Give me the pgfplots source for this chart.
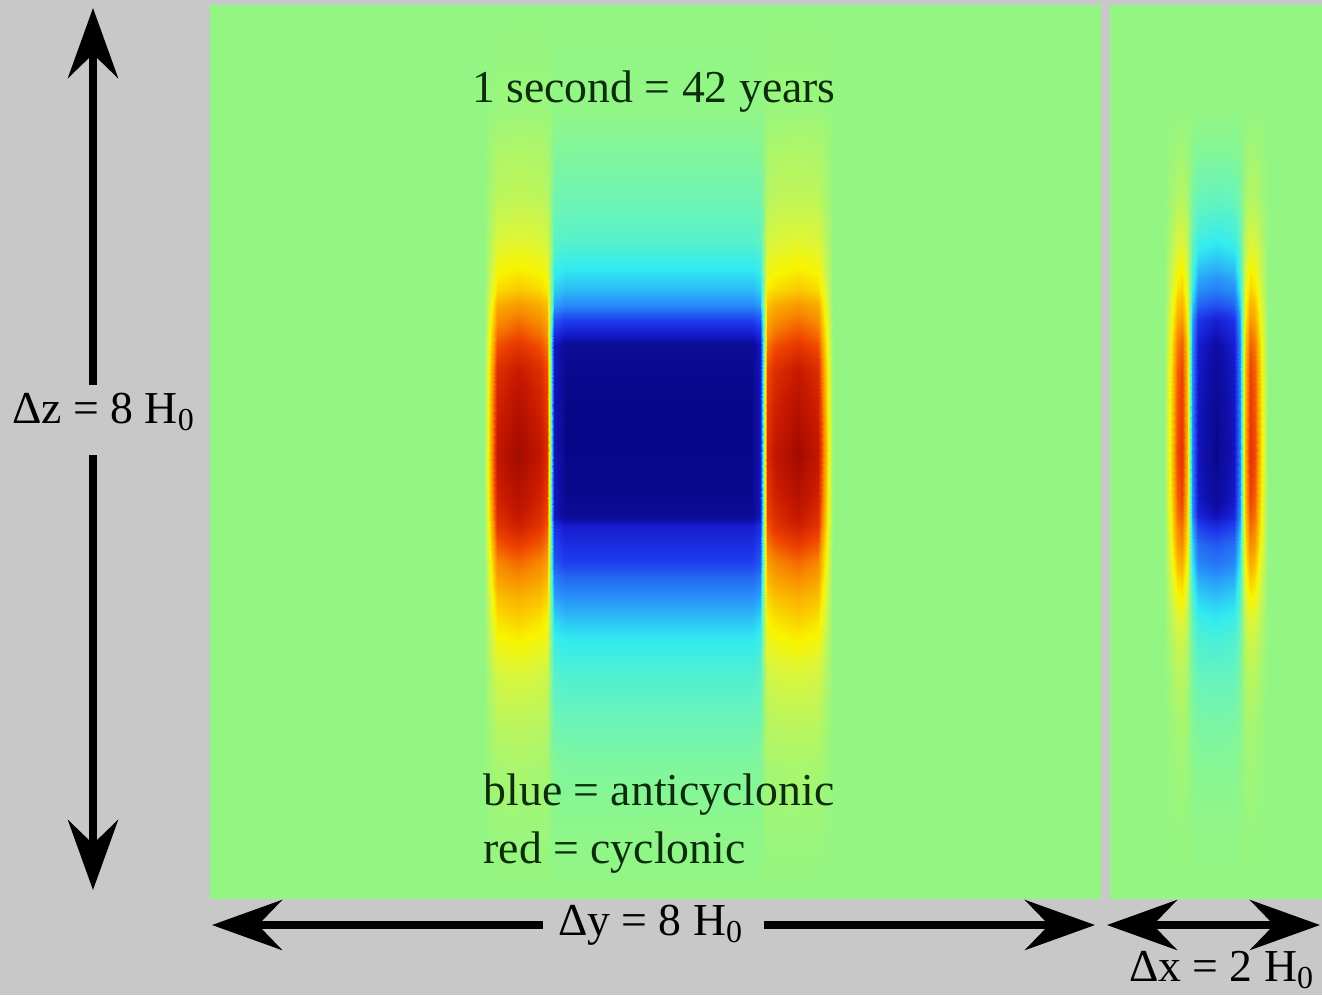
\documentclass[border=0pt]{standalone}
\usepackage{pgfplots}
\pgfplotsset{compat=1.18}
\usepackage{fontspec}
\setmainfont{Liberation Serif}
\usetikzlibrary{arrows.meta}
\definecolor{bggray}{RGB}{200,200,200}
\definecolor{txtgreen}{RGB}{12,45,12}
\pgfplotsset{colormap={vort}{rgb255(0pt)=(0,0,120); rgb255(5pt)=(12,12,150); rgb255(10pt)=(15,15,170); rgb255(15pt)=(20,25,200); rgb255(28pt)=(30,55,235); rgb255(55pt)=(40,150,250); rgb255(72pt)=(50,235,240); rgb255(88pt)=(110,245,180); rgb255(100pt)=(148,246,130); rgb255(112pt)=(190,246,90); rgb255(122pt)=(225,246,50); rgb255(130pt)=(248,245,0); rgb255(140pt)=(250,200,0); rgb255(155pt)=(248,140,0); rgb255(170pt)=(238,65,0); rgb255(185pt)=(200,25,0); rgb255(193pt)=(175,15,0); rgb255(200pt)=(145,10,0)}}
\tikzset{bigarrow/.style={line width=0.8mm,-{Stealth[length=7mm,width=5mm,inset=2.4mm]}}}
\begin{document}
\begin{tikzpicture}
\useasboundingbox (0,0) rectangle (13.22cm,9.95cm);
\fill[bggray] (0,0) rectangle (13.22cm,9.95cm);
\begin{axis}[at={(0,0)}, anchor=south west, width=13.22cm, height=9.95cm, scale only axis, hide axis,
  xmin=0, xmax=1322, ymin=0, ymax=995, y dir=reverse, clip=false,
  colormap name=vort, point meta min=-1, point meta max=1]
% left panel: y-z section, 18 columns x 28 rows
\addplot[surf, shader=interp, mesh/cols=18, mesh/rows=28, point meta=explicit]
 table[row sep=\\, x=x, y=y, meta=c] {
x y c\\
210 5 0\\484 5 0\\490 5 0\\497 5 0\\518 5 0\\540 5 0\\547 5 0\\554 5 0\\565 5 0\\752 5 0\\760 5 0\\767 5 0\\775 5 0\\798 5 0\\818 5 0\\826 5 0\\833 5 0\\1100 5 0\\
210 110 0\\484 110 0\\490 110 0.01\\497 110 0.02\\518 110 0.02\\540 110 0.02\\547 110 0.02\\554 110 -0.01\\565 110 -0.01\\752 110 -0.01\\760 110 -0.01\\767 110 0.02\\775 110 0.02\\798 110 0.02\\818 110 0.02\\826 110 0.01\\833 110 0\\1100 110 0\\
210 150 0\\484 150 0\\490 150 0.04\\497 150 0.07\\518 150 0.08\\540 150 0.07\\547 150 0.06\\554 150 -0.05\\565 150 -0.06\\752 150 -0.06\\760 150 -0.05\\767 150 0.06\\775 150 0.07\\798 150 0.08\\818 150 0.07\\826 150 0.04\\833 150 0\\1100 150 0\\
210 200 0\\484 200 0\\490 200 0.06\\497 200 0.12\\518 200 0.13\\540 200 0.12\\547 200 0.10\\554 200 -0.11\\565 200 -0.12\\752 200 -0.12\\760 200 -0.11\\767 200 0.10\\775 200 0.12\\798 200 0.13\\818 200 0.12\\826 200 0.06\\833 200 0\\1100 200 0\\
210 240 0\\484 240 0\\490 240 0.10\\497 240 0.20\\518 240 0.22\\540 240 0.20\\547 240 0.18\\554 240 -0.16\\565 240 -0.18\\752 240 -0.18\\760 240 -0.16\\767 240 0.18\\775 240 0.20\\798 240 0.22\\818 240 0.20\\826 240 0.10\\833 240 0\\1100 240 0\\
210 268 0\\484 268 0\\490 268 0.14\\497 268 0.28\\518 268 0.31\\540 268 0.28\\547 268 0.25\\554 268 -0.25\\565 268 -0.28\\752 268 -0.28\\760 268 -0.25\\767 268 0.25\\775 268 0.28\\798 268 0.31\\818 268 0.28\\826 268 0.14\\833 268 0\\1100 268 0\\
210 290 0\\484 290 0\\490 290 0.18\\497 290 0.36\\518 290 0.40\\540 290 0.36\\547 290 0.32\\554 290 -0.34\\565 290 -0.38\\752 290 -0.38\\760 290 -0.34\\767 290 0.32\\775 290 0.36\\798 290 0.40\\818 290 0.36\\826 290 0.18\\833 290 0\\1100 290 0\\
210 305 0\\484 305 0\\490 305 0.23\\497 305 0.47\\518 305 0.52\\540 305 0.47\\547 305 0.42\\554 305 -0.43\\565 305 -0.48\\752 305 -0.48\\760 305 -0.43\\767 305 0.42\\775 305 0.47\\798 305 0.52\\818 305 0.47\\826 305 0.23\\833 305 0\\1100 305 0\\
210 320 0\\484 320 0\\490 320 0.27\\497 320 0.54\\518 320 0.60\\540 320 0.54\\547 320 0.48\\554 320 -0.63\\565 320 -0.70\\752 320 -0.70\\760 320 -0.63\\767 320 0.48\\775 320 0.54\\798 320 0.60\\818 320 0.54\\826 320 0.27\\833 320 0\\1100 320 0\\
210 335 0\\484 335 0\\490 335 0.31\\497 335 0.61\\518 335 0.68\\540 335 0.61\\547 335 0.54\\554 335 -0.77\\565 335 -0.85\\752 335 -0.85\\760 335 -0.77\\767 335 0.54\\775 335 0.61\\798 335 0.68\\818 335 0.61\\826 335 0.31\\833 335 0\\1100 335 0\\
210 345 0\\484 345 0\\490 345 0.33\\497 345 0.67\\518 345 0.74\\540 345 0.67\\547 345 0.59\\554 345 -0.86\\565 345 -0.95\\752 345 -0.95\\760 345 -0.86\\767 345 0.59\\775 345 0.67\\798 345 0.74\\818 345 0.67\\826 345 0.33\\833 345 0\\1100 345 0\\
210 370 0\\484 370 0\\490 370 0.38\\497 370 0.77\\518 370 0.85\\540 370 0.77\\547 370 0.68\\554 370 -0.86\\565 370 -0.96\\752 370 -0.96\\760 370 -0.86\\767 370 0.68\\775 370 0.77\\798 370 0.85\\818 370 0.77\\826 370 0.38\\833 370 0\\1100 370 0\\
210 400 0\\484 400 0\\490 400 0.41\\497 400 0.81\\518 400 0.90\\540 400 0.81\\547 400 0.72\\554 400 -0.87\\565 400 -0.97\\752 400 -0.97\\760 400 -0.87\\767 400 0.72\\775 400 0.81\\798 400 0.90\\818 400 0.81\\826 400 0.41\\833 400 0\\1100 400 0\\
210 455 0\\484 455 0\\490 455 0.44\\497 455 0.87\\518 455 0.97\\540 455 0.87\\547 455 0.78\\554 455 -0.87\\565 455 -0.97\\752 455 -0.97\\760 455 -0.87\\767 455 0.78\\775 455 0.87\\798 455 0.97\\818 455 0.87\\826 455 0.44\\833 455 0\\1100 455 0\\
210 500 0\\484 500 0\\490 500 0.41\\497 500 0.81\\518 500 0.90\\540 500 0.81\\547 500 0.72\\554 500 -0.86\\565 500 -0.96\\752 500 -0.96\\760 500 -0.86\\767 500 0.72\\775 500 0.81\\798 500 0.90\\818 500 0.81\\826 500 0.41\\833 500 0\\1100 500 0\\
210 517 0\\484 517 0\\490 517 0.39\\497 517 0.77\\518 517 0.86\\540 517 0.77\\547 517 0.69\\554 517 -0.86\\565 517 -0.95\\752 517 -0.95\\760 517 -0.86\\767 517 0.69\\775 517 0.77\\798 517 0.86\\818 517 0.77\\826 517 0.39\\833 517 0\\1100 517 0\\
210 525 0\\484 525 0\\490 525 0.37\\497 525 0.75\\518 525 0.83\\540 525 0.75\\547 525 0.66\\554 525 -0.76\\565 525 -0.84\\752 525 -0.84\\760 525 -0.76\\767 525 0.66\\775 525 0.75\\798 525 0.83\\818 525 0.75\\826 525 0.37\\833 525 0\\1100 525 0\\
210 545 0\\484 545 0\\490 545 0.32\\497 545 0.65\\518 545 0.72\\540 545 0.65\\547 545 0.58\\554 545 -0.68\\565 545 -0.76\\752 545 -0.76\\760 545 -0.68\\767 545 0.58\\775 545 0.65\\798 545 0.72\\818 545 0.65\\826 545 0.32\\833 545 0\\1100 545 0\\
210 562 0\\484 562 0\\490 562 0.28\\497 562 0.56\\518 562 0.62\\540 562 0.56\\547 562 0.50\\554 562 -0.63\\565 562 -0.70\\752 562 -0.70\\760 562 -0.63\\767 562 0.50\\775 562 0.56\\798 562 0.62\\818 562 0.56\\826 562 0.28\\833 562 0\\1100 562 0\\
210 578 0\\484 578 0\\490 578 0.25\\497 578 0.50\\518 578 0.55\\540 578 0.50\\547 578 0.44\\554 578 -0.52\\565 578 -0.58\\752 578 -0.58\\760 578 -0.52\\767 578 0.44\\775 578 0.50\\798 578 0.55\\818 578 0.50\\826 578 0.25\\833 578 0\\1100 578 0\\
210 600 0\\484 600 0\\490 600 0.20\\497 600 0.41\\518 600 0.45\\540 600 0.41\\547 600 0.36\\554 600 -0.41\\565 600 -0.45\\752 600 -0.45\\760 600 -0.41\\767 600 0.36\\775 600 0.41\\798 600 0.45\\818 600 0.41\\826 600 0.20\\833 600 0\\1100 600 0\\
210 620 0\\484 620 0\\490 620 0.17\\497 620 0.34\\518 620 0.38\\540 620 0.34\\547 620 0.30\\554 620 -0.32\\565 620 -0.36\\752 620 -0.36\\760 620 -0.32\\767 620 0.30\\775 620 0.34\\798 620 0.38\\818 620 0.34\\826 620 0.17\\833 620 0\\1100 620 0\\
210 640 0\\484 640 0\\490 640 0.14\\497 640 0.28\\518 640 0.31\\540 640 0.28\\547 640 0.25\\554 640 -0.25\\565 640 -0.28\\752 640 -0.28\\760 640 -0.25\\767 640 0.25\\775 640 0.28\\798 640 0.31\\818 640 0.28\\826 640 0.14\\833 640 0\\1100 640 0\\
210 675 0\\484 675 0\\490 675 0.09\\497 675 0.18\\518 675 0.20\\540 675 0.18\\547 675 0.16\\554 675 -0.18\\565 675 -0.20\\752 675 -0.20\\760 675 -0.18\\767 675 0.16\\775 675 0.18\\798 675 0.20\\818 675 0.18\\826 675 0.09\\833 675 0\\1100 675 0\\
210 720 0\\484 720 0\\490 720 0.05\\497 720 0.11\\518 720 0.12\\540 720 0.11\\547 720 0.10\\554 720 -0.12\\565 720 -0.13\\752 720 -0.13\\760 720 -0.12\\767 720 0.10\\775 720 0.11\\798 720 0.12\\818 720 0.11\\826 720 0.05\\833 720 0\\1100 720 0\\
210 770 0\\484 770 0\\490 770 0.03\\497 770 0.05\\518 770 0.06\\540 770 0.05\\547 770 0.05\\554 770 -0.05\\565 770 -0.06\\752 770 -0.06\\760 770 -0.05\\767 770 0.05\\775 770 0.05\\798 770 0.06\\818 770 0.05\\826 770 0.03\\833 770 0\\1100 770 0\\
210 830 0\\484 830 0\\490 830 0.01\\497 830 0.02\\518 830 0.02\\540 830 0.02\\547 830 0.02\\554 830 -0.02\\565 830 -0.02\\752 830 -0.02\\760 830 -0.02\\767 830 0.02\\775 830 0.02\\798 830 0.02\\818 830 0.02\\826 830 0.01\\833 830 0\\1100 830 0\\
210 898 0\\484 898 0\\490 898 0\\497 898 0\\518 898 0\\540 898 0\\547 898 0\\554 898 0\\565 898 0\\752 898 0\\760 898 0\\767 898 0\\775 898 0\\798 898 0\\818 898 0\\826 898 0\\833 898 0\\1100 898 0\\
};
% right panel: x-z section, 17 columns x 28 rows
\addplot[surf, shader=interp, mesh/cols=17, mesh/rows=28, point meta=explicit]
 table[row sep=\\, x=x, y=y, meta=c] {
x y c\\
1110 5 0\\1164 5 0\\1170 5 0\\1177 5 0\\1182 5 0\\1187 5 0\\1192 5 0\\1198 5 0\\1216 5 0\\1234 5 0\\1240 5 0\\1245 5 0\\1250 5 0\\1255 5 0\\1262 5 0\\1268 5 0\\1322 5 0\\
1110 110 0\\1164 110 0\\1170 110 0\\1177 110 0\\1182 110 0\\1187 110 0\\1192 110 0\\1198 110 0\\1216 110 0\\1234 110 0\\1240 110 0\\1245 110 0\\1250 110 0\\1255 110 0\\1262 110 0\\1268 110 0\\1322 110 0\\
1110 150 0\\1164 150 0\\1170 150 0.02\\1177 150 0.04\\1182 150 0.04\\1187 150 0.02\\1192 150 -0.03\\1198 150 -0.05\\1216 150 -0.05\\1234 150 -0.05\\1240 150 -0.03\\1245 150 0.02\\1250 150 0.04\\1255 150 0.04\\1262 150 0.02\\1268 150 0\\1322 150 0\\
1110 200 0\\1164 200 0\\1170 200 0.04\\1177 200 0.09\\1182 200 0.10\\1187 200 0.06\\1192 200 -0.08\\1198 200 -0.14\\1216 200 -0.15\\1234 200 -0.14\\1240 200 -0.08\\1245 200 0.06\\1250 200 0.10\\1255 200 0.09\\1262 200 0.04\\1268 200 0\\1322 200 0\\
1110 240 0\\1164 240 0\\1170 240 0.08\\1177 240 0.18\\1182 240 0.20\\1187 240 0.12\\1192 240 -0.14\\1198 240 -0.24\\1216 240 -0.27\\1234 240 -0.24\\1240 240 -0.14\\1245 240 0.12\\1250 240 0.20\\1255 240 0.18\\1262 240 0.08\\1268 240 0\\1322 240 0\\
1110 268 0\\1164 268 0\\1170 268 0.12\\1177 268 0.27\\1182 268 0.30\\1187 268 0.18\\1192 268 -0.20\\1198 268 -0.36\\1216 268 -0.40\\1234 268 -0.36\\1240 268 -0.20\\1245 268 0.18\\1250 268 0.30\\1255 268 0.27\\1262 268 0.12\\1268 268 0\\1322 268 0\\
1110 290 0\\1164 290 0\\1170 290 0.15\\1177 290 0.34\\1182 290 0.38\\1187 290 0.23\\1192 290 -0.26\\1198 290 -0.47\\1216 290 -0.52\\1234 290 -0.47\\1240 290 -0.26\\1245 290 0.23\\1250 290 0.38\\1255 290 0.34\\1262 290 0.15\\1268 290 0\\1322 290 0\\
1110 305 0\\1164 305 0\\1170 305 0.18\\1177 305 0.41\\1182 305 0.45\\1187 305 0.27\\1192 305 -0.33\\1198 305 -0.59\\1216 305 -0.65\\1234 305 -0.59\\1240 305 -0.33\\1245 305 0.27\\1250 305 0.45\\1255 305 0.41\\1262 305 0.18\\1268 305 0\\1322 305 0\\
1110 320 0\\1164 320 0\\1170 320 0.21\\1177 320 0.47\\1182 320 0.52\\1187 320 0.31\\1192 320 -0.41\\1198 320 -0.74\\1216 320 -0.82\\1234 320 -0.74\\1240 320 -0.41\\1245 320 0.31\\1250 320 0.52\\1255 320 0.47\\1262 320 0.21\\1268 320 0\\1322 320 0\\
1110 335 0\\1164 335 0\\1170 335 0.24\\1177 335 0.54\\1182 335 0.60\\1187 335 0.36\\1192 335 -0.44\\1198 335 -0.79\\1216 335 -0.88\\1234 335 -0.79\\1240 335 -0.44\\1245 335 0.36\\1250 335 0.60\\1255 335 0.54\\1262 335 0.24\\1268 335 0\\1322 335 0\\
1110 345 0\\1164 345 0\\1170 345 0.26\\1177 345 0.58\\1182 345 0.64\\1187 345 0.38\\1192 345 -0.46\\1198 345 -0.83\\1216 345 -0.92\\1234 345 -0.83\\1240 345 -0.46\\1245 345 0.38\\1250 345 0.64\\1255 345 0.58\\1262 345 0.26\\1268 345 0\\1322 345 0\\
1110 370 0\\1164 370 0\\1170 370 0.28\\1177 370 0.63\\1182 370 0.70\\1187 370 0.42\\1192 370 -0.47\\1198 370 -0.85\\1216 370 -0.94\\1234 370 -0.85\\1240 370 -0.47\\1245 370 0.42\\1250 370 0.70\\1255 370 0.63\\1262 370 0.28\\1268 370 0\\1322 370 0\\
1110 400 0\\1164 400 0\\1170 400 0.29\\1177 400 0.65\\1182 400 0.72\\1187 400 0.43\\1192 400 -0.48\\1198 400 -0.86\\1216 400 -0.96\\1234 400 -0.86\\1240 400 -0.48\\1245 400 0.43\\1250 400 0.72\\1255 400 0.65\\1262 400 0.29\\1268 400 0\\1322 400 0\\
1110 455 0\\1164 455 0\\1170 455 0.30\\1177 455 0.68\\1182 455 0.75\\1187 455 0.45\\1192 455 -0.49\\1198 455 -0.87\\1216 455 -0.97\\1234 455 -0.87\\1240 455 -0.49\\1245 455 0.45\\1250 455 0.75\\1255 455 0.68\\1262 455 0.30\\1268 455 0\\1322 455 0\\
1110 500 0\\1164 500 0\\1170 500 0.28\\1177 500 0.63\\1182 500 0.70\\1187 500 0.42\\1192 500 -0.47\\1198 500 -0.85\\1216 500 -0.94\\1234 500 -0.85\\1240 500 -0.47\\1245 500 0.42\\1250 500 0.70\\1255 500 0.63\\1262 500 0.28\\1268 500 0\\1322 500 0\\
1110 517 0\\1164 517 0\\1170 517 0.26\\1177 517 0.59\\1182 517 0.65\\1187 517 0.39\\1192 517 -0.44\\1198 517 -0.79\\1216 517 -0.88\\1234 517 -0.79\\1240 517 -0.44\\1245 517 0.39\\1250 517 0.65\\1255 517 0.59\\1262 517 0.26\\1268 517 0\\1322 517 0\\
1110 525 0\\1164 525 0\\1170 525 0.25\\1177 525 0.56\\1182 525 0.62\\1187 525 0.37\\1192 525 -0.39\\1198 525 -0.70\\1216 525 -0.78\\1234 525 -0.70\\1240 525 -0.39\\1245 525 0.37\\1250 525 0.62\\1255 525 0.56\\1262 525 0.25\\1268 525 0\\1322 525 0\\
1110 545 0\\1164 545 0\\1170 545 0.22\\1177 545 0.50\\1182 545 0.55\\1187 545 0.33\\1192 545 -0.31\\1198 545 -0.56\\1216 545 -0.62\\1234 545 -0.56\\1240 545 -0.31\\1245 545 0.33\\1250 545 0.55\\1255 545 0.50\\1262 545 0.22\\1268 545 0\\1322 545 0\\
1110 562 0\\1164 562 0\\1170 562 0.19\\1177 562 0.43\\1182 562 0.48\\1187 562 0.29\\1192 562 -0.28\\1198 562 -0.50\\1216 562 -0.55\\1234 562 -0.50\\1240 562 -0.28\\1245 562 0.29\\1250 562 0.48\\1255 562 0.43\\1262 562 0.19\\1268 562 0\\1322 562 0\\
1110 578 0\\1164 578 0\\1170 578 0.16\\1177 578 0.36\\1182 578 0.40\\1187 578 0.24\\1192 578 -0.23\\1198 578 -0.41\\1216 578 -0.45\\1234 578 -0.41\\1240 578 -0.23\\1245 578 0.24\\1250 578 0.40\\1255 578 0.36\\1262 578 0.16\\1268 578 0\\1322 578 0\\
1110 600 0\\1164 600 0\\1170 600 0.12\\1177 600 0.27\\1182 600 0.30\\1187 600 0.18\\1192 600 -0.18\\1198 600 -0.32\\1216 600 -0.35\\1234 600 -0.32\\1240 600 -0.18\\1245 600 0.18\\1250 600 0.30\\1255 600 0.27\\1262 600 0.12\\1268 600 0\\1322 600 0\\
1110 620 0\\1164 620 0\\1170 620 0.09\\1177 620 0.20\\1182 620 0.22\\1187 620 0.13\\1192 620 -0.14\\1198 620 -0.25\\1216 620 -0.28\\1234 620 -0.25\\1240 620 -0.14\\1245 620 0.13\\1250 620 0.22\\1255 620 0.20\\1262 620 0.09\\1268 620 0\\1322 620 0\\
1110 640 0\\1164 640 0\\1170 640 0.07\\1177 640 0.15\\1182 640 0.17\\1187 640 0.10\\1192 640 -0.11\\1198 640 -0.20\\1216 640 -0.22\\1234 640 -0.20\\1240 640 -0.11\\1245 640 0.10\\1250 640 0.17\\1255 640 0.15\\1262 640 0.07\\1268 640 0\\1322 640 0\\
1110 675 0\\1164 675 0\\1170 675 0.04\\1177 675 0.10\\1182 675 0.11\\1187 675 0.07\\1192 675 -0.08\\1198 675 -0.14\\1216 675 -0.15\\1234 675 -0.14\\1240 675 -0.08\\1245 675 0.07\\1250 675 0.11\\1255 675 0.10\\1262 675 0.04\\1268 675 0\\1322 675 0\\
1110 720 0\\1164 720 0\\1170 720 0.02\\1177 720 0.05\\1182 720 0.06\\1187 720 0.04\\1192 720 -0.05\\1198 720 -0.08\\1216 720 -0.09\\1234 720 -0.08\\1240 720 -0.05\\1245 720 0.04\\1250 720 0.06\\1255 720 0.05\\1262 720 0.02\\1268 720 0\\1322 720 0\\
1110 770 0\\1164 770 0\\1170 770 0.01\\1177 770 0.03\\1182 770 0.03\\1187 770 0.02\\1192 770 -0.02\\1198 770 -0.04\\1216 770 -0.04\\1234 770 -0.04\\1240 770 -0.02\\1245 770 0.02\\1250 770 0.03\\1255 770 0.03\\1262 770 0.01\\1268 770 0\\1322 770 0\\
1110 830 0\\1164 830 0\\1170 830 0\\1177 830 0.01\\1182 830 0.01\\1187 830 0.01\\1192 830 -0.01\\1198 830 -0.01\\1216 830 -0.01\\1234 830 -0.01\\1240 830 -0.01\\1245 830 0.01\\1250 830 0.01\\1255 830 0.01\\1262 830 0\\1268 830 0\\1322 830 0\\
1110 898 0\\1164 898 0\\1170 898 0\\1177 898 0\\1182 898 0\\1187 898 0\\1192 898 0\\1198 898 0\\1216 898 0\\1234 898 0\\1240 898 0\\1245 898 0\\1250 898 0\\1255 898 0\\1262 898 0\\1268 898 0\\1322 898 0\\
};
% annotations
\node[font=\fontsize{13}{15}\selectfont, text=txtgreen] at (axis cs:654,92) {1 second = 42 years};
\node[font=\fontsize{13}{15}\selectfont, text=txtgreen, anchor=west, inner sep=0pt] at (axis cs:483,795) {blue = anticyclonic};
\node[font=\fontsize{13}{15}\selectfont, text=txtgreen, anchor=west, inner sep=0pt] at (axis cs:483,853) {red = cyclonic};
\node[font=\fontsize{13}{15}\selectfont, inner sep=0pt] at (axis cs:104,412) {Δz = 8 H\textsubscript{0}};
\node[font=\fontsize{13}{15}\selectfont, inner sep=0pt] at (axis cs:651,925) {Δy = 8 H\textsubscript{0}};
\node[font=\fontsize{13}{15}\selectfont, inner sep=0pt] at (axis cs:1222,970) {Δx = 2 H\textsubscript{0}};
\draw[bigarrow] (axis cs:93,385) -- (axis cs:93,8);
\draw[bigarrow] (axis cs:93,455) -- (axis cs:93,890);
\draw[bigarrow] (axis cs:543,925) -- (axis cs:212,925);
\draw[bigarrow] (axis cs:764,925) -- (axis cs:1095,925);
\draw[line width=0.8mm,{Stealth[length=7mm,width=5mm,inset=2.4mm]}-{Stealth[length=7mm,width=5mm,inset=2.4mm]}] (axis cs:1107,925) -- (axis cs:1320,925);
\end{axis}
\end{tikzpicture}
\end{document}
